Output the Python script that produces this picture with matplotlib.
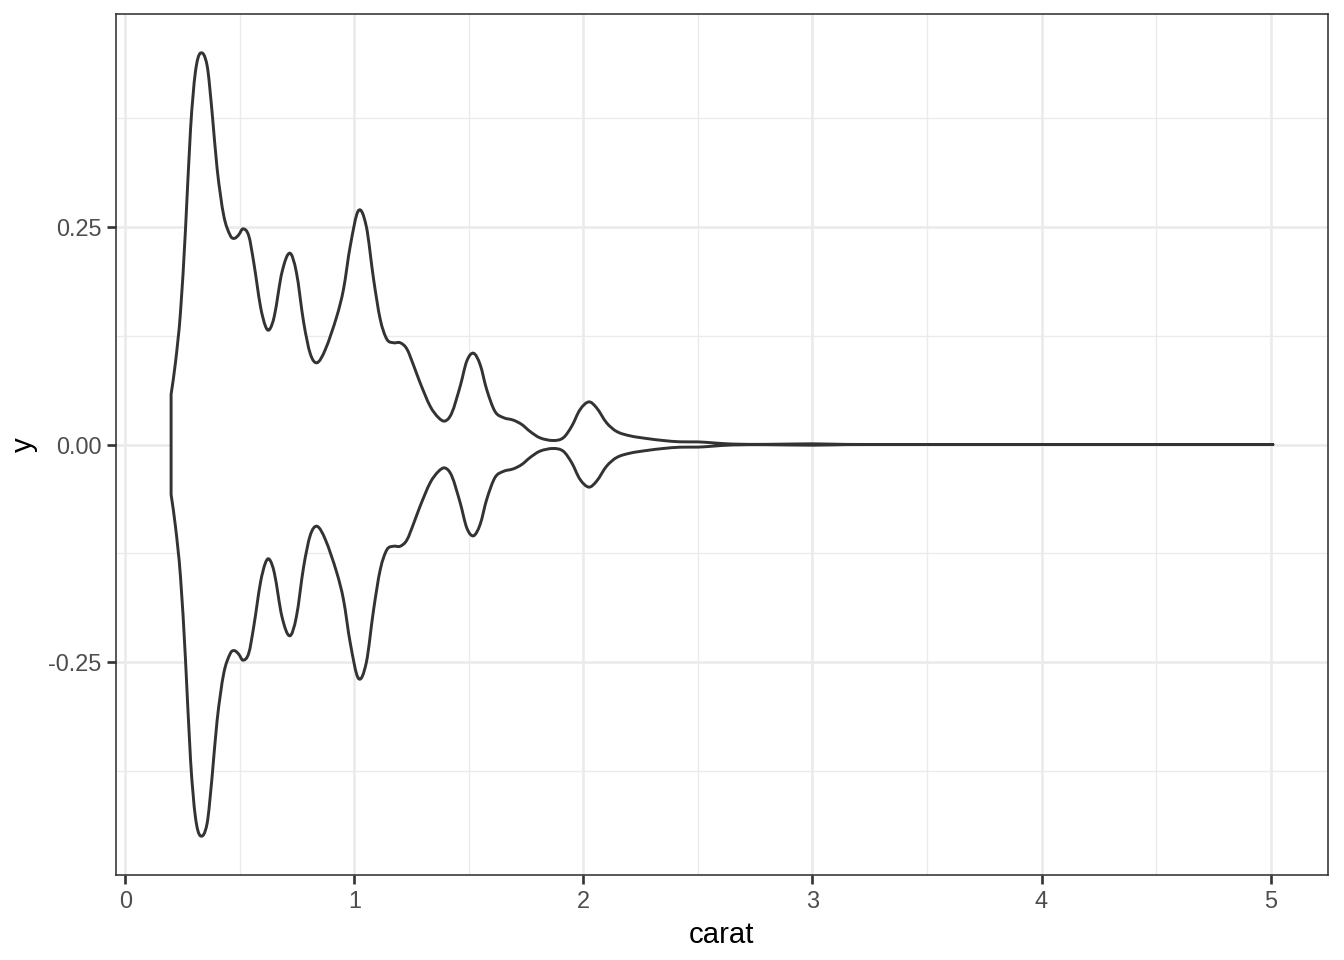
import matplotlib
matplotlib.use("Agg")
import matplotlib.pyplot as plt
from matplotlib.path import Path
from matplotlib.patches import PathPatch
import numpy as np

# Violin half-width profile of carat
carat = [0.200, 0.219, 0.241, 0.263, 0.285, 0.306, 0.328, 0.357, 0.379, 0.401,
         0.430, 0.459, 0.476, 0.495, 0.514, 0.539, 0.561, 0.590, 0.612, 0.629,
         0.651, 0.684, 0.718, 0.747, 0.779, 0.808, 0.837, 0.873, 0.924, 0.953,
         0.982, 1.018, 1.052, 1.084, 1.113, 1.142, 1.171, 1.200, 1.229, 1.260,
         1.287, 1.331, 1.367, 1.396, 1.425, 1.462, 1.491, 1.520, 1.549, 1.578,
         1.614, 1.650, 1.694, 1.731, 1.767, 1.810, 1.868, 1.912, 1.949, 1.985,
         2.024, 2.058, 2.101, 2.145, 2.203, 2.276, 2.348, 2.421, 2.500, 2.560,
         2.650, 2.800, 3.000, 3.150, 3.500, 4.000, 4.500, 5.010]
half_width = [0.0576, 0.094, 0.152, 0.248, 0.363, 0.428, 0.450, 0.436, 0.382, 0.317,
              0.263, 0.240, 0.237, 0.241, 0.248, 0.240, 0.209, 0.159, 0.136, 0.132,
              0.148, 0.198, 0.220, 0.198, 0.140, 0.104, 0.094, 0.109, 0.148, 0.179,
              0.228, 0.269, 0.251, 0.190, 0.144, 0.121, 0.117, 0.117, 0.110, 0.090,
              0.071, 0.044, 0.031, 0.027, 0.036, 0.067, 0.096, 0.105, 0.092, 0.063,
              0.038, 0.031, 0.028, 0.023, 0.015, 0.0077, 0.0046, 0.0077, 0.021, 0.040,
              0.049, 0.042, 0.025, 0.015, 0.010, 0.0069, 0.0046, 0.0031, 0.0030, 0.0020,
              0.0005, 0.0002, 0.0008, 0.0001, 0.0000, 0.0000, 0.0000, 0.0000]

x_ticks = [0, 1, 2, 3, 4, 5]
x_tick_labels = ["0", "1", "2", "3", "4", "5"]
y_ticks = [-0.25, 0.0, 0.25]
y_tick_labels = ["-0.25", "0.00", "0.25"]

plt.rcParams['font.family'] = ['Liberation Sans', 'DejaVu Sans']

fig = plt.figure(figsize=(7, 5), dpi=192)
ax = fig.add_axes([116/1344, 1 - 875/960, (1328 - 116)/1344, (875 - 14)/960])


def hermite_segments(x, y):
    """Bezier (CURVE4) vertices passing through the read points, smooth in x."""
    x = np.asarray(x, float)
    y = np.asarray(y, float)
    n = len(x)
    m = np.empty(n)
    m[0] = (y[1] - y[0]) / (x[1] - x[0])
    m[-1] = (y[-1] - y[-2]) / (x[-1] - x[-2])
    m[1:-1] = (y[2:] - y[:-2]) / (x[2:] - x[:-2])
    verts = []
    for i in range(n - 1):
        dx = x[i + 1] - x[i]
        verts.append((x[i] + dx / 3, y[i] + m[i] * dx / 3))
        verts.append((x[i + 1] - dx / 3, y[i + 1] - m[i + 1] * dx / 3))
        verts.append((x[i + 1], y[i + 1]))
    return verts


c = np.array(carat)
w = np.array(half_width)
upper = hermite_segments(c, w)
lower = hermite_segments(c[::-1], -w[::-1])

verts = [(c[0], w[0])] + upper + [(c[-1], -w[-1])] + lower + [(c[0], w[0])]
codes = ([Path.MOVETO] + [Path.CURVE4] * len(upper) + [Path.LINETO]
         + [Path.CURVE4] * len(lower) + [Path.CLOSEPOLY])
patch = PathPatch(Path(verts, codes), facecolor="white", edgecolor="#333333",
                  linewidth=1.1, zorder=3, joinstyle="round")
ax.add_patch(patch)

ax.set_xlim(-0.0405, 5.2505)
ax.set_ylim(-0.495, 0.495)

ax.set_xticks(x_ticks)
ax.set_xticklabels(x_tick_labels)
ax.set_yticks(y_ticks)
ax.set_yticklabels(y_tick_labels)
ax.set_xticks([0.5, 1.5, 2.5, 3.5, 4.5], minor=True)
ax.set_yticks([-0.375, -0.125, 0.125, 0.375], minor=True)

ax.grid(which="major", color="#EBEBEB", linewidth=1.0, zorder=0)
ax.grid(which="minor", color="#EBEBEB", linewidth=0.5, zorder=0)
ax.set_axisbelow(True)

ax.tick_params(which="major", length=3.5, width=1.0, color="#333333",
               labelsize=8.8, labelcolor="#4D4D4D", pad=2)
ax.tick_params(which="minor", length=0)
for s in ax.spines.values():
    s.set_color("#333333")
    s.set_linewidth(0.6)

ax.set_xlabel("carat", fontsize=11, color="black", labelpad=3)
ax.set_ylabel("y", fontsize=11, color="black", labelpad=4)

fig.savefig("out.png", dpi=192)
